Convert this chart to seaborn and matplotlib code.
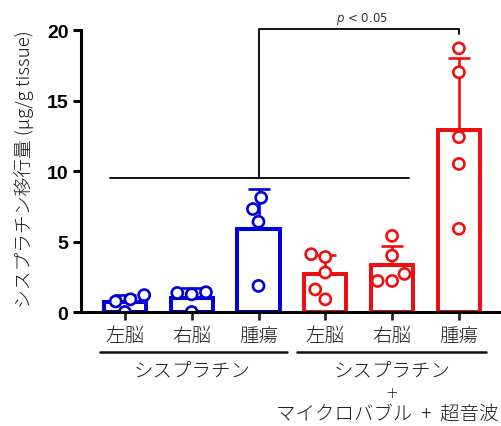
import matplotlib
matplotlib.use("Agg")
import matplotlib.pyplot as plt
import numpy as np
import pandas as pd
import seaborn as sns

# ---- data (µg/g tissue) ----
sites = ["左脳", "右脳", "腫瘍"]
group_names = ["シスプラチン", "シスプラチン + マイクロバブル + 超音波"]
cis_left = [0.0, 0.75, 0.9, 1.2]
cis_right = [0.0, 1.25, 1.35, 1.4]
cis_tumor = [1.85, 6.4, 7.3, 8.1]
combo_left = [0.9, 1.6, 2.8, 3.9, 4.1]
combo_right = [2.2, 2.2, 2.7, 4.0, 5.4]
combo_tumor = [5.9, 10.5, 12.4, 17.0, 18.7]
yticks = [0, 5, 10, 15, 20]

series = [cis_left, cis_right, cis_tumor, combo_left, combo_right, combo_tumor]
cond_ids = [f"c{i}" for i in range(len(series))]
rows = []
for i, vals in enumerate(series):
    for v in vals:
        rows.append({"cond": cond_ids[i], "val": v,
                     "group": group_names[0] if i < 3 else group_names[1]})
df = pd.DataFrame(rows)

BLUE = "#0000DC"
RED = "#EE1010"
palette = {group_names[0]: BLUE, group_names[1]: RED}
bar_colors = [BLUE] * 3 + [RED] * 3

sns.set_style("ticks")
plt.rcParams["font.family"] = ["Noto Sans CJK JP", "DejaVu Sans"]
LIGHT = "light"
TXT = "#1a1a1a"

fig = plt.figure(figsize=(5.01, 4.27), dpi=100)
ax = fig.add_axes([81 / 501, 1 - 313 / 427, (499 - 81) / 501, 282 / 427])

# hollow bars
sns.barplot(data=df, x="cond", y="val", hue="group", palette=palette,
            order=cond_ids, fill=False, errorbar=None, width=0.63,
            linewidth=2.9, dodge=False, legend=False, ax=ax, zorder=2)

# upward SD error bars
stats = df.groupby("cond", sort=False)["val"].agg(["mean", "std"]).reindex(cond_ids)
for i, cid in enumerate(cond_ids):
    ax.errorbar(i, stats.loc[cid, "mean"], yerr=[[0], [stats.loc[cid, "std"]]],
                fmt="none", ecolor=bar_colors[i], elinewidth=1.9,
                capsize=8, capthick=1.9, zorder=3)

# individual animals as open circles
n_before = len(ax.collections)
sns.swarmplot(data=df, x="cond", y="val", hue="group", palette=palette,
              order=cond_ids, size=8, dodge=False, legend=False, ax=ax,
              zorder=4)
for coll in ax.collections[n_before:]:
    fc = coll.get_facecolors()
    coll.set_edgecolors(fc)
    coll.set_facecolors("white")
    coll.set_linewidth(1.9)

ax.set_xlim(-0.657, 5.6)
ax.set_ylim(0, 20)

for side in ("top", "right"):
    ax.spines[side].set_visible(False)
for side in ("left", "bottom"):
    ax.spines[side].set_linewidth(2.2)
    ax.spines[side].set_color("black")
    ax.spines[side].set_zorder(5)

ax.set_yticks(yticks)
ax.set_yticklabels([str(t) for t in yticks], fontsize=14, fontweight="bold",
                   family=["Liberation Sans", "DejaVu Sans"])
ax.tick_params(axis="y", length=6, width=2.2, pad=3, colors="black")
ax.set_xticks(range(6))
ax.set_xticklabels(sites * 2, fontsize=14, color=TXT, fontweight=LIGHT)
ax.tick_params(axis="x", length=6, width=2.0, pad=3)
ax.set_xlabel("")
ax.set_ylabel("シスプラチン移行量 (μg/g tissue)", fontsize=13.5, color=TXT,
              fontweight=LIGHT)
ax.yaxis.set_label_coords(-0.112, 0.51)

# significance bracket
ax.plot([-0.22, 4.25], [9.5, 9.5], color="#111111", lw=1.4, zorder=1)
ax.plot([2, 2, 5, 5], [9.5, 20.05, 20.05, 19.7], color="#111111", lw=1.4,
        clip_on=False, zorder=1)
ax.text(3.55, 20.85, "$p$ < 0.05", fontsize=8.5, color="#333333",
        ha="center", va="center", family=["DejaVu Sans"])

# treatment group labels below the axis
xt = ax.get_xaxis_transform()
ax.plot([-0.373, 2.43], [-0.142, -0.142], color="#111111", lw=1.8,
        transform=xt, clip_on=False)
ax.plot([2.58, 5.40], [-0.142, -0.142], color="#111111", lw=1.8,
        transform=xt, clip_on=False)
for x in (1, 4):
    ax.text(x, -0.21, "シスプラチン", transform=xt, ha="center", va="center",
            fontsize=14, color=TXT, fontweight=LIGHT)
ax.text(4, -0.284, "+", transform=xt, ha="center", va="center",
        fontsize=11, color=TXT, fontweight=LIGHT, family=["DejaVu Sans"])
ax.text(3.93, -0.362, "マイクロバブル  +  超音波", transform=xt, ha="center",
        va="center", fontsize=14, color=TXT, fontweight=LIGHT)

fig.savefig("out.png", dpi=100)
